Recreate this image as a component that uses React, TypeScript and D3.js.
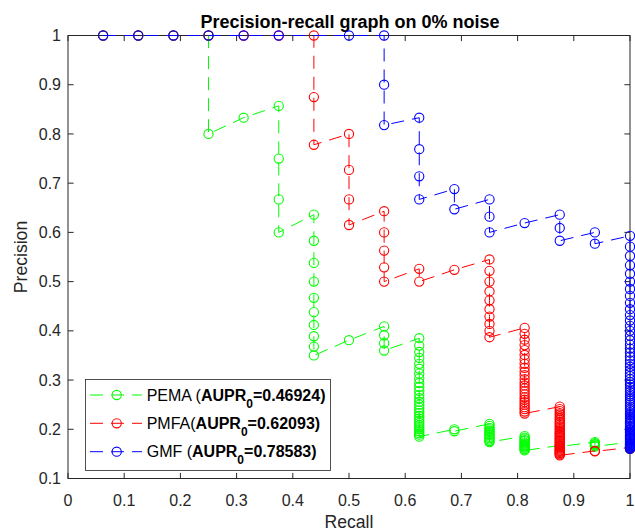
import React from "react";
import * as d3 from "d3";

// ---------- data ----------
const recallSteps = [
  0.0625, 0.125, 0.1875, 0.25, 0.3125, 0.375, 0.4375, 0.5,
  0.5625, 0.625, 0.6875, 0.75, 0.8125, 0.875, 0.9375, 1,
];

// precision values observed at each recall step (top to bottom within a step)
const pemaPrecision: number[][] = [
  [1],
  [1],
  [1],
  [1, 0.8],
  [0.833],
  [0.857, 0.75, 0.667, 0.6],
  [0.636, 0.583, 0.538, 0.5, 0.467, 0.438, 0.412, 0.389, 0.368, 0.35],
  [0.381],
  [0.409, 0.391, 0.375, 0.36],
  [0.385, 0.37, 0.357, 0.345, 0.333, 0.323, 0.313, 0.303, 0.294, 0.286, 0.278, 0.27, 0.263, 0.256, 0.25,
    0.244, 0.238, 0.233, 0.227, 0.222, 0.217, 0.213, 0.208, 0.204, 0.2, 0.196, 0.192, 0.189, 0.185],
  [0.2, 0.196],
  [0.211, 0.207, 0.203, 0.2, 0.197, 0.194, 0.19, 0.188, 0.185, 0.182, 0.179, 0.176, 0.174],
  [0.186, 0.183, 0.181, 0.178, 0.176, 0.173, 0.171, 0.169, 0.167, 0.165, 0.163, 0.16, 0.159, 0.157],
  [0.167, 0.165],
  [0.174, 0.172, 0.17, 0.169, 0.167, 0.165],
  [0.174, 0.172, 0.17, 0.168, 0.167, 0.165, 0.163, 0.162, 0.16],
];

const pmfaPrecision: number[][] = [
  [1],
  [1],
  [1],
  [1],
  [1],
  [1],
  [1, 0.875, 0.778],
  [0.8, 0.727, 0.667, 0.615],
  [0.643, 0.6, 0.563, 0.529, 0.5],
  [0.526, 0.5],
  [0.524],
  [0.545, 0.522, 0.5, 0.48, 0.462, 0.444, 0.429, 0.414, 0.4, 0.387],
  [0.406, 0.394, 0.382, 0.371, 0.361, 0.351, 0.342, 0.333, 0.325, 0.317, 0.31, 0.302, 0.295, 0.289,
    0.283, 0.277, 0.271, 0.265, 0.26, 0.255, 0.25, 0.245, 0.241, 0.236, 0.232],
  [0.246, 0.241, 0.237, 0.233, 0.23, 0.226, 0.222, 0.219, 0.215, 0.212, 0.209, 0.206, 0.203, 0.2,
    0.197, 0.194, 0.192, 0.189, 0.187, 0.184, 0.182, 0.179, 0.177, 0.175, 0.173, 0.171, 0.169, 0.167,
    0.165, 0.163, 0.161, 0.159, 0.157, 0.156, 0.154, 0.152, 0.151, 0.149, 0.147],
  [0.156, 0.155],
  [0.163, 0.162, 0.16],
];

const gmfPrecision: number[][] = [
  [1],
  [1],
  [1],
  [1],
  [1],
  [1],
  [],
  [1],
  [1, 0.9, 0.818],
  [0.833, 0.769, 0.714, 0.667],
  [0.688, 0.647],
  [0.667, 0.632, 0.6],
  [0.619],
  [0.636, 0.609, 0.583],
  [0.6, 0.577],
  [0.593, 0.571, 0.552, 0.533, 0.516, 0.5, 0.485, 0.471, 0.457, 0.444, 0.432, 0.421, 0.41, 0.4, 0.39,
    0.381, 0.372, 0.364, 0.356, 0.348, 0.34, 0.333, 0.327, 0.32, 0.314, 0.308, 0.302, 0.296, 0.291,
    0.286, 0.281, 0.276, 0.271, 0.267, 0.262, 0.258, 0.254, 0.25, 0.246, 0.242, 0.239, 0.235, 0.232,
    0.229, 0.225, 0.222, 0.219, 0.216, 0.213, 0.211, 0.208, 0.205, 0.203, 0.2, 0.198, 0.195, 0.193,
    0.19, 0.188, 0.186, 0.184, 0.182, 0.18, 0.178, 0.176, 0.174, 0.172, 0.17, 0.168, 0.167, 0.165,
    0.163, 0.162, 0.16],
];

const seriesPrefixes = ["PEMA (", "PMFA(", "GMF ("];
const auprValues = ["0.46924", "0.62093", "0.78583"];
const seriesColors = ["#00ff00", "#ff0000", "#0000ff"];

const xTicks = [0, 0.1, 0.2, 0.3, 0.4, 0.5, 0.6, 0.7, 0.8, 0.9, 1];
const xTickLabels = ["0", "0.1", "0.2", "0.3", "0.4", "0.5", "0.6", "0.7", "0.8", "0.9", "1"];
const yTicks = [0.1, 0.2, 0.3, 0.4, 0.5, 0.6, 0.7, 0.8, 0.9, 1];
const yTickLabels = ["0.1", "0.2", "0.3", "0.4", "0.5", "0.6", "0.7", "0.8", "0.9", "1"];

const titleText = "Precision-recall graph on 0% noise";
const xLabel = "Recall";
const yLabel = "Precision";

// ---------- layout ----------
const W = 635;
const H = 531;
const PL = 68;
const PR = 630;
const PT = 35.5;
const PB = 478.5;
const FONT = "'Liberation Sans', Arial, Helvetica, sans-serif";
const AX = "#262626";

function toPoints(groups: number[][]): [number, number][] {
  const pts: [number, number][] = [];
  groups.forEach((g, i) => g.forEach((p) => pts.push([recallSteps[i], p])));
  return pts;
}

export default function App() {
  const x = d3.scaleLinear().domain([0, 1]).range([PL, PR]);
  const y = d3.scaleLinear().domain([0.1, 1]).range([PB, PT]);
  const line = d3
    .line<[number, number]>()
    .x((d) => x(d[0]))
    .y((d) => y(d[1]));

  const series = [pemaPrecision, pmfaPrecision, gmfPrecision].map(toPoints);
  const tickLen = 5.6;
  const dash = "13,8";
  const r = 4.6;

  const legendX = 85.5;
  const legendY = 379.5;
  const legendW = 245;
  const legendH = 91;
  const rowY = [395, 423.3, 451.7];

  return (
    <svg
      width={W}
      height={H}
      style={{ position: "absolute", left: 0, top: 0, background: "#fff" }}
      fontFamily={FONT}
    >
      <rect x={0} y={0} width={W} height={H} fill="#fff" />
      {/* axes box */}
      <rect x={PL} y={PT} width={PR - PL} height={PB - PT} fill="#fff" stroke={AX} strokeWidth={1} />
      {/* ticks */}
      {xTicks.map((t, i) => (
        <g key={"xt" + i}>
          <line x1={x(t)} x2={x(t)} y1={PB} y2={PB - tickLen} stroke={AX} strokeWidth={1} />
          <line x1={x(t)} x2={x(t)} y1={PT} y2={PT + tickLen} stroke={AX} strokeWidth={1} />
          <text x={x(t)} y={506} textAnchor="middle" fontSize={16} fill={AX}>
            {xTickLabels[i]}
          </text>
        </g>
      ))}
      {yTicks.map((t, i) => (
        <g key={"yt" + i}>
          <line x1={PL} x2={PL + tickLen} y1={y(t)} y2={y(t)} stroke={AX} strokeWidth={1} />
          <line x1={PR} x2={PR - tickLen} y1={y(t)} y2={y(t)} stroke={AX} strokeWidth={1} />
          <text x={61} y={y(t) + 5.6} textAnchor="end" fontSize={16} fill={AX}>
            {yTickLabels[i]}
          </text>
        </g>
      ))}
      {/* labels */}
      <text x={(PL + PR) / 2} y={528} textAnchor="middle" fontSize={17.6} fill={AX}>
        {xLabel}
      </text>
      <text
        transform={`translate(27, ${(PT + PB) / 2}) rotate(-90)`}
        textAnchor="middle"
        fontSize={17.6}
        fill={AX}
      >
        {yLabel}
      </text>
      <text x={(PL + PR) / 2 + 1} y={27.5} textAnchor="middle" fontSize={18} fontWeight="bold" fill="#000">
        {titleText}
      </text>

      {/* series */}
      {series.map((pts, si) => (
        <g key={"s" + si}>
          <path d={line(pts) || ""} fill="none" stroke={seriesColors[si]} strokeWidth={1} strokeDasharray={dash} />
          {pts.map((p, pi) => (
            <circle
              key={pi}
              cx={x(p[0])}
              cy={y(p[1])}
              r={r}
              fill="none"
              stroke={seriesColors[si]}
              strokeWidth={1.1}
            />
          ))}
        </g>
      ))}

      {/* legend */}
      <rect x={legendX} y={legendY} width={legendW} height={legendH} fill="#fff" stroke={AX} strokeWidth={0.8} />
      {seriesPrefixes.map((pref, i) => (
        <g key={"lg" + i}>
          <line
            x1={90}
            x2={142}
            y1={rowY[i]}
            y2={rowY[i]}
            stroke={seriesColors[i]}
            strokeWidth={1}
            strokeDasharray={dash}
          />
          <circle cx={116.7} cy={rowY[i]} r={r} fill="none" stroke={seriesColors[i]} strokeWidth={1.1} />
          <text x={146.7} y={rowY[i] + 5.6} fontSize={16} fill="#000" style={{ whiteSpace: "pre" }}>
            <tspan>{pref}</tspan>
            <tspan fontWeight="bold">AUPR</tspan>
            <tspan fontWeight="bold" fontSize={12} dy={7}>
              0
            </tspan>
            <tspan fontWeight="bold" dy={-7}>
              {"=" + auprValues[i] + ")"}
            </tspan>
          </text>
        </g>
      ))}
    </svg>
  );
}
